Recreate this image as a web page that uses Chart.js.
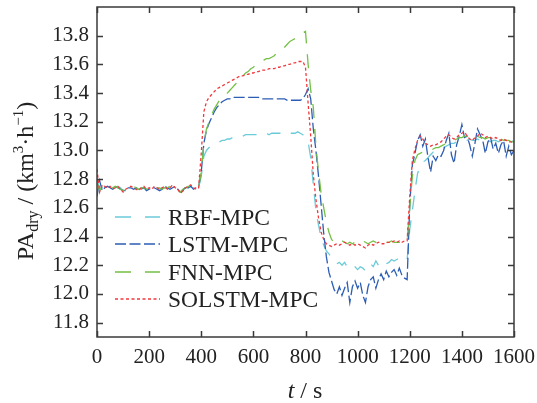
<!DOCTYPE html>
<html>
<head>
<meta charset="utf-8">
<script src="https://cdn.jsdelivr.net/npm/chart.js@4.4.1/dist/chart.umd.min.js"></script>
<style>
  html, body { margin: 0; padding: 0; background: #fff; }
  #wrap { width: 537px; height: 403px; }
</style>
</head>
<body>
<div id="wrap"><canvas id="grafica_pa" width="537" height="403"></canvas></div>
<script>
// muestreo cada 10 s, de 0 a 1600 s
const sampleStep = 10;

const xTicks = [0, 200, 400, 600, 800, 1000, 1200, 1400, 1600];
const yTicks = [11.8, 12.0, 12.2, 12.4, 12.6, 12.8, 13.0, 13.2, 13.4, 13.6, 13.8];

const seriesNames = ['RBF-MPC', 'LSTM-MPC', 'FNN-MPC', 'SOLSTM-MPC'];

// RBF-MPC
const valuesRbf = [
  12.80, 12.73, 12.74, 12.75, 12.74, 12.74, 12.73, 12.74, 12.75, 12.74,
  12.72, 12.73, 12.74, 12.74, 12.74, 12.73, 12.73, 12.74, 12.74, 12.73,
  12.74, 12.74, 12.74, 12.73, 12.73, 12.74, 12.74, 12.74, 12.74, 12.75,
  12.74, 12.73, 12.71, 12.73, 12.74, 12.74, 12.75, 12.74, 12.74, 12.74,
  12.82, 12.96, 13.00, 13.02, 13.03, 13.04, 13.05, 13.06, 13.07, 13.07,
  13.08, 13.08, 13.09, 13.09, 13.10, 13.10, 13.10, 13.11, 13.11, 13.11,
  13.11, 13.11, 13.11, 13.12, 13.12, 13.12, 13.11, 13.12, 13.12, 13.12,
  13.12, 13.12, 13.13, 13.12, 13.12, 13.12, 13.12, 13.13, 13.12, 13.11,
  13.09, 13.06, 12.95, 12.76, 12.58, 12.48, 12.39, 12.34, 12.30, 12.28,
  12.25, 12.23, 12.21, 12.22, 12.20, 12.22, 12.19, 12.18, 12.20, 12.19,
  12.17, 12.19, 12.18, 12.16, 12.19, 12.21, 12.19, 12.23, 12.20, 12.21,
  12.23, 12.21, 12.22, 12.24, 12.23, 12.24, 12.25, 12.24, 12.25, 12.24,
  12.45, 12.58, 12.72, 12.84, 12.89, 12.92, 12.93, 12.95, 12.97, 12.99,
  13.00, 13.01, 13.02, 13.02, 13.03, 13.04, 13.05, 13.05, 13.06, 13.06,
  13.07, 13.07, 13.07, 13.08, 13.07, 13.07, 13.08, 13.07, 13.08, 13.07,
  13.07, 13.06, 13.07, 13.07, 13.06, 13.07, 13.07, 13.06, 13.06, 13.07,
  13.06
];

// LSTM-MPC
const valuesLstm = [
  12.68, 12.79, 12.72, 12.74, 12.75, 12.74, 12.73, 12.75, 12.74, 12.73,
  12.72, 12.72, 12.74, 12.74, 12.73, 12.74, 12.73, 12.73, 12.74, 12.72,
  12.73, 12.74, 12.74, 12.73, 12.72, 12.73, 12.75, 12.74, 12.73, 12.74,
  12.75, 12.73, 12.71, 12.72, 12.75, 12.74, 12.75, 12.73, 12.74, 12.75,
  12.85, 13.05, 13.14, 13.19, 13.23, 13.27, 13.30, 13.32, 13.34, 13.35,
  13.36, 13.36, 13.37, 13.37, 13.37, 13.37, 13.37, 13.37, 13.37, 13.37,
  13.37, 13.37, 13.37, 13.36, 13.36, 13.36, 13.36, 13.36, 13.36, 13.36,
  13.36, 13.36, 13.36, 13.35, 13.35, 13.35, 13.35, 13.35, 13.35, 13.36,
  13.39, 13.43, 13.36, 13.15, 13.00, 12.82, 12.62, 12.42, 12.26, 12.15,
  12.09, 12.03, 12.00, 12.05, 11.99, 12.04, 12.08, 11.94, 12.05, 12.09,
  12.04, 12.08, 11.99, 11.94, 12.05, 12.10, 12.12, 12.04, 12.10, 12.14,
  12.10, 12.16, 12.12, 12.15, 12.17, 12.13, 12.18, 12.13, 12.11, 12.10,
  12.62, 12.90, 12.98, 13.07, 13.11, 13.03, 13.08, 12.95, 12.85, 12.96,
  12.93, 12.97, 12.96, 13.00, 13.07, 13.12, 12.97, 12.91, 13.04, 13.10,
  13.18, 13.09, 13.10, 13.04, 12.96, 13.05, 13.15, 13.11, 13.07, 12.98,
  13.06, 13.09, 13.01, 13.05, 12.98, 13.04, 13.07, 12.96, 13.03, 12.97,
  13.00
];

// FNN-MPC
const valuesFnn = [
  12.78, 12.72, 12.75, 12.74, 12.75, 12.74, 12.74, 12.75, 12.74, 12.73,
  12.72, 12.73, 12.74, 12.75, 12.75, 12.74, 12.73, 12.74, 12.74, 12.73,
  12.73, 12.74, 12.75, 12.74, 12.74, 12.73, 12.74, 12.74, 12.75, 12.75,
  12.74, 12.74, 12.71, 12.73, 12.74, 12.75, 12.74, 12.74, 12.73, 12.74,
  12.85, 13.05, 13.15, 13.20, 13.25, 13.29, 13.32, 13.35, 13.37, 13.38,
  13.40, 13.42, 13.44, 13.46, 13.48, 13.50, 13.52, 13.54, 13.55, 13.57,
  13.58, 13.60, 13.61, 13.62, 13.63, 13.64, 13.64, 13.65, 13.66, 13.68,
  13.69, 13.71, 13.72, 13.74, 13.76, 13.77, 13.78, 13.79, 13.81, 13.82,
  13.83, 13.60, 13.42, 13.30, 13.03, 12.85, 12.70, 12.60, 12.50, 12.43,
  12.38, 12.36, 12.35, 12.36, 12.37, 12.36, 12.35, 12.36, 12.35, 12.36,
  12.35, 12.36, 12.37, 12.36, 12.35, 12.36, 12.37, 12.36, 12.36, 12.37,
  12.36, 12.36, 12.36, 12.37, 12.36, 12.36, 12.36, 12.37, 12.37, 12.37,
  12.60, 12.82, 12.93, 12.97, 12.98, 12.99, 12.99, 13.00, 13.00, 13.01,
  13.02, 13.02, 13.03, 13.04, 13.05, 13.06, 13.07, 13.07, 13.08, 13.09,
  13.09, 13.10, 13.10, 13.09, 13.09, 13.09, 13.10, 13.09, 13.09, 13.08,
  13.09, 13.09, 13.08, 13.08, 13.09, 13.08, 13.07, 13.07, 13.07, 13.06,
  13.06
];

// SOLSTM-MPC
const valuesSolstm = [
  12.87, 12.71, 12.76, 12.75, 12.74, 12.75, 12.73, 12.74, 12.75, 12.73,
  12.71, 12.73, 12.74, 12.75, 12.74, 12.73, 12.72, 12.74, 12.75, 12.73,
  12.74, 12.73, 12.75, 12.74, 12.73, 12.74, 12.75, 12.73, 12.74, 12.76,
  12.74, 12.73, 12.70, 12.72, 12.74, 12.75, 12.76, 12.74, 12.73, 12.74,
  12.98, 13.27, 13.34, 13.37, 13.39, 13.41, 13.43, 13.44, 13.45, 13.46,
  13.47, 13.48, 13.49, 13.50, 13.51, 13.52, 13.52, 13.53, 13.53, 13.54,
  13.54, 13.55, 13.55, 13.56, 13.56, 13.56, 13.57, 13.57, 13.57, 13.58,
  13.58, 13.59, 13.59, 13.60, 13.60, 13.61, 13.61, 13.62, 13.62, 13.62,
  13.58, 13.33, 13.10, 12.83, 12.66, 12.53, 12.43, 12.38, 12.35, 12.34,
  12.33, 12.34, 12.35, 12.34, 12.35, 12.36, 12.35, 12.34, 12.35, 12.34,
  12.35, 12.34, 12.33, 12.32, 12.34, 12.35, 12.34, 12.35, 12.36, 12.35,
  12.35, 12.36, 12.36, 12.36, 12.37, 12.36, 12.37, 12.36, 12.37, 12.37,
  12.68, 12.93, 13.01, 13.07, 13.10, 13.08, 13.05, 13.04, 13.03, 13.04,
  13.04, 13.05, 13.06, 13.08, 13.10, 13.11, 13.09, 13.08, 13.09, 13.11,
  13.12, 13.13, 13.10, 13.08, 13.07, 13.09, 13.10, 13.12, 13.11, 13.09,
  13.10, 13.09, 13.08, 13.09, 13.08, 13.07, 13.08, 13.07, 13.06, 13.06,
  13.05
];

const timeS = valuesRbf.map((_, i) => i * sampleStep);

// estilos de cada curva
const estilos = [
  { color: '#6ccbd8', dash: [14, 11], order: 3 },
  { color: '#2c5db5', dash: [11, 3.5], order: 2 },
  { color: '#74c046', dash: [14, 11], order: 1 },
  { color: '#f2383c', dash: [3, 2.5], order: 0 }
];
const todasSeries = [valuesRbf, valuesLstm, valuesFnn, valuesSolstm];

const fuenteSerif = '"Liberation Serif", "DejaVu Serif", serif';
const colorTexto = '#222';

function armarDataset(idx) {
  return {
    label: seriesNames[idx],
    data: todasSeries[idx].map((v, i) => ({ x: timeS[i], y: v })),
    borderColor: estilos[idx].color,
    borderDash: estilos[idx].dash,
    borderWidth: 1.3,
    pointRadius: 0,
    tension: 0,
    fill: false,
    order: estilos[idx].order
  };
}

// dibuja texto con partes en subindice / superindice
function textoCompuesto(ctx, partes, cx, cy) {
  let total = 0;
  partes.forEach(p => {
    ctx.font = (p.italic ? 'italic ' : '') + p.size + 'px ' + fuenteSerif;
    p.w = ctx.measureText(p.t).width;
    total += p.w;
  });
  let x = cx - total / 2;
  partes.forEach(p => {
    ctx.font = (p.italic ? 'italic ' : '') + p.size + 'px ' + fuenteSerif;
    ctx.fillText(p.t, x, cy + (p.dy || 0));
    x += p.w;
  });
}

const pluginMarco = {
  id: 'marco',
  afterDraw(chart) {
    const { ctx, chartArea: a, scales } = chart;
    const sx = scales.x, sy = scales.y;
    ctx.save();

    // marco
    ctx.strokeStyle = '#3a3a3a';
    ctx.lineWidth = 1.5;
    ctx.setLineDash([]);
    ctx.strokeRect(a.left, a.top, a.right - a.left, a.bottom - a.top);

    // marcas hacia adentro en los cuatro lados
    ctx.beginPath();
    xTicks.forEach(v => {
      const px = Math.round(sx.getPixelForValue(v)) + 0.5;
      ctx.moveTo(px, a.bottom); ctx.lineTo(px, a.bottom - 6);
      ctx.moveTo(px, a.top); ctx.lineTo(px, a.top + 6);
    });
    yTicks.forEach(v => {
      const py = Math.round(sy.getPixelForValue(v)) + 0.5;
      ctx.moveTo(a.left, py); ctx.lineTo(a.left + 6, py);
      ctx.moveTo(a.right, py); ctx.lineTo(a.right - 6, py);
    });
    ctx.stroke();

    // leyenda
    const leyY = [217, 244, 272, 299];
    seriesNames.forEach((nombre, i) => {
      ctx.strokeStyle = estilos[i].color;
      ctx.lineWidth = 1.5;
      ctx.setLineDash(i === 1 ? [11, 3.5] : (i === 3 ? [3, 2.5] : [16, 14]));
      ctx.beginPath();
      ctx.moveTo(115, leyY[i]);
      ctx.lineTo(160, leyY[i]);
      ctx.stroke();
      ctx.setLineDash([]);
      ctx.fillStyle = colorTexto;
      ctx.font = '23.5px ' + fuenteSerif;
      ctx.textBaseline = 'alphabetic';
      ctx.textAlign = 'left';
      ctx.fillText(nombre, 168, leyY[i] + 7.5);
    });

    // titulo eje x
    ctx.fillStyle = colorTexto;
    ctx.textAlign = 'left';
    textoCompuesto(ctx, [
      { t: 't', size: 24, italic: true },
      { t: ' / s', size: 24 }
    ], 305, 398);

    // titulo eje y (rotado)
    ctx.save();
    ctx.translate(33, 181);
    ctx.rotate(-Math.PI / 2);
    textoCompuesto(ctx, [
      { t: 'PA', size: 24 },
      { t: 'dry', size: 16, dy: 5 },
      { t: ' / (km', size: 24 },
      { t: '3', size: 15, dy: -10 },
      { t: '\u00B7h', size: 24 },
      { t: '\u2212', size: 15, dy: -10 },
      { t: '1', size: 15, dy: -10 },
      { t: ')', size: 24 }
    ], 0, 0);
    ctx.restore();

    ctx.restore();
  }
};

new Chart(document.getElementById('grafica_pa'), {
  type: 'line',
  data: {
    datasets: [0, 1, 2, 3].map(armarDataset)
  },
  options: {
    responsive: false,
    animation: false,
    devicePixelRatio: 1,
    layout: { padding: { top: 7, right: 23, left: 0, bottom: 0 } },
    plugins: {
      legend: { display: false },
      tooltip: { enabled: false }
    },
    scales: {
      x: {
        type: 'linear',
        min: 0,
        max: 1600,
        afterBuildTicks: (eje) => { eje.ticks = xTicks.map(v => ({ value: v })); },
        afterFit: (eje) => { eje.height = 66; eje.paddingLeft = 0; eje.paddingRight = 0; },
        grid: { display: false, drawTicks: false },
        border: { display: false },
        ticks: {
          padding: 8,
          maxRotation: 0,
          color: colorTexto,
          font: { family: fuenteSerif, size: 21 },
          callback: (v) => String(v)
        }
      },
      y: {
        type: 'linear',
        min: 11.7,
        max: 14.0,
        afterBuildTicks: (eje) => { eje.ticks = yTicks.map(v => ({ value: v })); },
        afterFit: (eje) => { eje.width = 97; eje.paddingTop = 0; eje.paddingBottom = 0; },
        grid: { display: false, drawTicks: false },
        border: { display: false },
        ticks: {
          padding: 8,
          color: colorTexto,
          font: { family: fuenteSerif, size: 21 },
          callback: (v) => Number(v).toFixed(1)
        }
      }
    }
  },
  plugins: [pluginMarco]
});
</script>
</body>
</html>
